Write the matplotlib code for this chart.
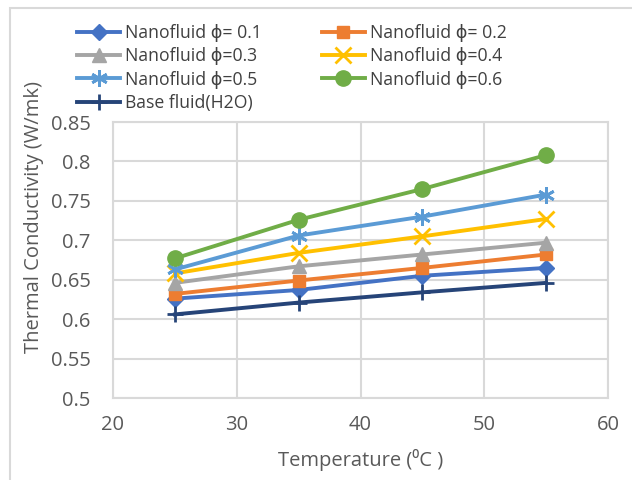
import matplotlib
matplotlib.use("Agg")
import matplotlib.pyplot as plt
from matplotlib.patches import Rectangle

plt.rcParams['font.family'] = ['Open Sans', 'DejaVu Sans']

temperature = [25, 35, 45, 55]
phi_01 = [0.626, 0.637, 0.655, 0.665]
phi_02 = [0.632, 0.649, 0.665, 0.682]
phi_03 = [0.646, 0.667, 0.682, 0.697]
phi_04 = [0.658, 0.684, 0.705, 0.727]
phi_05 = [0.663, 0.706, 0.730, 0.758]
phi_06 = [0.677, 0.726, 0.765, 0.808]
base_fluid = [0.606, 0.621, 0.634, 0.646]

labels = ["Nanofluid ϕ= 0.1", "Nanofluid ϕ= 0.2", "Nanofluid ϕ=0.3",
          "Nanofluid ϕ=0.4", "Nanofluid ϕ=0.5", "Nanofluid ϕ=0.6",
          "Base fluid(H2O)"]
series = [phi_01, phi_02, phi_03, phi_04, phi_05, phi_06, base_fluid]
colors = ["#4472C4", "#ED7D31", "#A5A5A5", "#FFC000", "#5B9BD5", "#70AD47", "#264478"]
markers = ["D", "s", "^", "x", (6, 2, 0), "o", "+"]
msizes = [8, 9, 10, 11, 12, 11, 11]

x_ticks = [20, 30, 40, 50, 60]
y_ticks = [0.5, 0.55, 0.6, 0.65, 0.7, 0.75, 0.8, 0.85]

fig = plt.figure(figsize=(6.32, 4.8), dpi=100)
ax = fig.add_axes([113/632, 1-398/480, (608-113)/632, (398-122)/480])

handles = []
for vals, lab, c, m, ms in zip(series, labels, colors, markers, msizes):
    h, = ax.plot(temperature, vals, color=c, lw=2.8, marker=m, markersize=ms,
                 markeredgewidth=2 if m in ("x", "+", (6, 2, 0)) else 1,
                 markeredgecolor=c, markerfacecolor=c, label=lab, zorder=3)
    handles.append(h)

ax.set_xlim(20, 60)
ax.set_ylim(0.5, 0.85)
ax.set_xticks(x_ticks)
ax.set_yticks(y_ticks)
ax.set_yticklabels([f"{v:g}" for v in y_ticks])
ax.grid(True, color="#D9D9D9", lw=1.5, zorder=0)
for s in ax.spines.values():
    s.set_color("#D9D9D9")
    s.set_linewidth(1.5)
ax.tick_params(length=0, labelsize=14.5, labelcolor="#595959")
ax.tick_params(axis='x', pad=12)
ax.tick_params(axis='y', pad=16)

ax.set_xlabel("Temperature (⁰C )", fontsize=14.5, color="#595959", labelpad=10)
ax.set_ylabel("Thermal Conductivity (W/mk)", fontsize=14.5, color="#595959")
ax.yaxis.set_label_coords(-0.139, 0.655)

order = [0, 2, 4, 6, 1, 3, 5]
leg = fig.legend([handles[i] for i in order], [labels[i] for i in order],
                 ncol=2, loc="upper left", bbox_to_anchor=(77/632, 1-24/480),
                 frameon=False, fontsize=12.7, handlelength=2.45, handletextpad=0.28,
                 columnspacing=3.4, labelspacing=0.3, borderaxespad=0, borderpad=0)
for t in leg.get_texts():
    t.set_color("#404040")

fig.patches.append(Rectangle((10/632, -0.1), 1.2, 1.1 - 8/480, transform=fig.transFigure,
                             fill=False, edgecolor="#D9D9D9", lw=1.5))

fig.savefig("out.png", dpi=100)
